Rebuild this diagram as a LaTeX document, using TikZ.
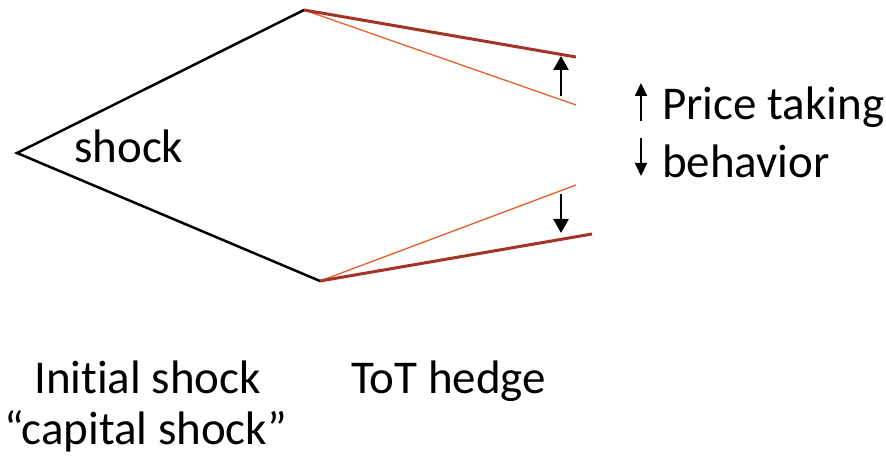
\documentclass[tikz,border=0pt]{standalone}
\usepackage{fontspec}
\setmainfont[Ligatures={NoCommon}]{Carlito}
\usetikzlibrary{arrows.meta}
\definecolor{darkred}{HTML}{A3342A}
\definecolor{lightred}{HTML}{E8602A}
\begin{document}
\begin{tikzpicture}[x=1pt,y=-1pt,
  blk/.style={line width=2.5pt,black},
  thick red/.style={line width=3pt,darkred},
  thin red/.style={line width=1.3pt,lightred},
  bigarrow/.style={line width=2.6pt,-{Triangle[width=15pt,length=14pt]}},
  smallarrow/.style={line width=2pt,-{Triangle[width=12pt,length=13pt]}},
  lbl/.style={inner sep=0pt,anchor=base west,font=\fontsize{47}{50}\selectfont}]
\useasboundingbox (0,0) rectangle (886,457);
\coordinate (L) at (17,153);
\coordinate (T) at (304,10);
\coordinate (B) at (320,281);
\coordinate (TR) at (576,57);
\coordinate (TO) at (576,105);
\coordinate (BO) at (576,185);
\coordinate (BR) at (592,234);
\coordinate (ua1) at (561,96);
\coordinate (ua2) at (561,56);
\coordinate (da1) at (561,194);
\coordinate (da2) at (561,233);
\coordinate (su1) at (641,121);
\coordinate (su2) at (641,83);
\coordinate (sd1) at (641,138);
\coordinate (sd2) at (641,176);
\draw[blk,line join=miter] (T) -- (L) -- (B);
\draw[thin red] (T) -- (TO);
\draw[thin red] (B) -- (BO);
\draw[thick red] (T) -- (TR);
\draw[thick red] (B) -- (BR);
\draw[bigarrow] (ua1) -- (ua2);
\draw[bigarrow] (da1) -- (da2);
\draw[smallarrow] (su1) -- (su2);
\draw[smallarrow] (sd1) -- (sd2);
\node[lbl] (shock) at (74,163) {shock};
\node[lbl] (pt) at (662,120) {Price taking};
\node[lbl] (beh) at (662,178) {behavior};
\node[lbl] (init) at (34,393) {Initial shock};
\node[lbl] (cap) at (4,444) {“capital shock”};
\node[lbl] (tot) at (351,393) {ToT hedge};
\end{tikzpicture}
\end{document}
